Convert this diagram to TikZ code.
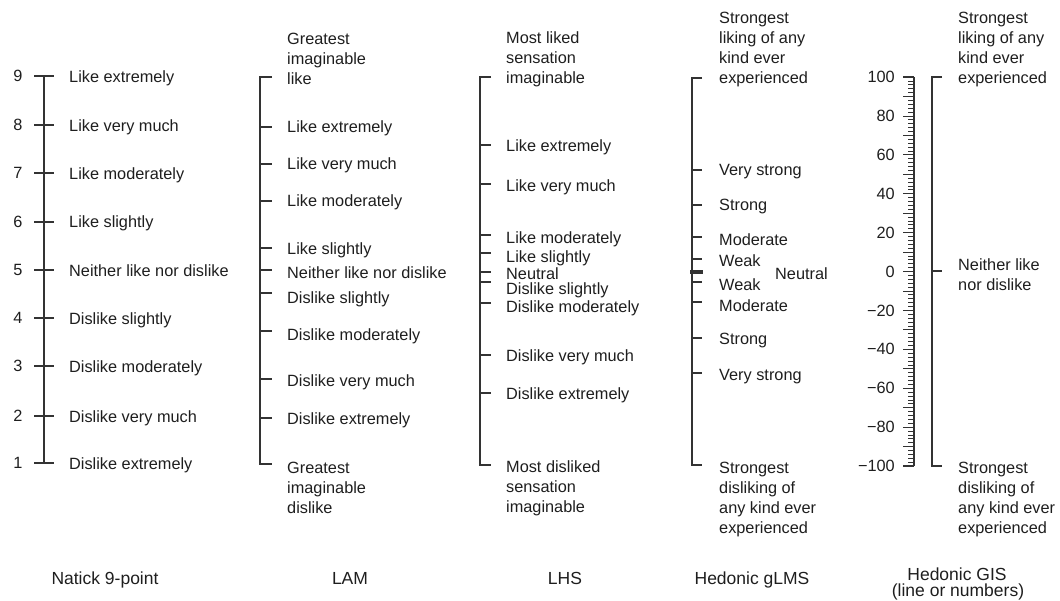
\documentclass[tikz,border=0pt]{standalone}
\usepackage{fontspec}
\setmainfont{Liberation Sans}
\definecolor{ink}{HTML}{1E1E1E}
\definecolor{rulecol}{HTML}{333333}
\begin{document}
\begin{tikzpicture}[x=1pt,y=-1pt,
  lbl/.style={anchor=west,inner sep=0pt,text=ink,font=\fontsize{16.3}{20}\selectfont,align=left},
  num/.style={inner sep=0pt,text=ink,font=\fontsize{16.3}{20}\selectfont},
  ttl/.style={anchor=base,inner sep=0pt,text=ink,font=\fontsize{17.5}{17.5}\selectfont},
  axisline/.style={draw=rulecol,line width=1.3pt},
  tickline/.style={draw=rulecol,line width=1.1pt},
  rulertick/.style={draw=rulecol,line width=0.7pt}]
\useasboundingbox (0,0) rectangle (1060,601);

% ---------------- Natick 9-point ----------------
\draw[axisline] (44,76) -- (44,463);
\foreach \v/\y in {9/76,8/125,7/173,6/222,5/270,4/318,3/366,2/416,1/463}{
  \draw[tickline] (34,\y) -- (54,\y);
  \node[num] (nat\v) at (18,\y) {\v};
}
\node[lbl] (natL9) at (69,78)  {Like extremely};
\node[lbl] (natL8) at (69,127) {Like very much};
\node[lbl] (natL7) at (69,175) {Like moderately};
\node[lbl] (natL6) at (69,223) {Like slightly};
\node[lbl] (natL5) at (69,271) {Neither like nor dislike};
\node[lbl] (natL4) at (69,320) {Dislike slightly};
\node[lbl] (natL3) at (69,368) {Dislike moderately};
\node[lbl] (natL2) at (69,418) {Dislike very much};
\node[lbl] (natL1) at (69,465) {Dislike extremely};

% ---------------- LAM ----------------
\draw[axisline] (272,77) -- (260,77) -- (260,464) -- (272,464);
\foreach \y in {127,164,201,248,270,293,331,379,418}{
  \draw[tickline] (260,\y) -- (272,\y);
}
\node[lbl] (lamTop) at (287,59)  {Greatest\\imaginable\\like};
\node[lbl] (lam1) at (287,128) {Like extremely};
\node[lbl] (lam2) at (287,165) {Like very much};
\node[lbl] (lam3) at (287,202) {Like moderately};
\node[lbl] (lam4) at (287,250) {Like slightly};
\node[lbl] (lam5) at (287,273) {Neither like nor dislike};
\node[lbl] (lam6) at (287,299) {Dislike slightly};
\node[lbl] (lam7) at (287,336) {Dislike moderately};
\node[lbl] (lam8) at (287,382) {Dislike very much};
\node[lbl] (lam9) at (287,420) {Dislike extremely};
\node[lbl] (lamBot) at (287,488) {Greatest\\imaginable\\dislike};

% ---------------- LHS ----------------
\draw[axisline] (491,77) -- (480,77) -- (480,465) -- (491,465);
\foreach \y in {145,184,235,253,272,282,303,355,393}{
  \draw[tickline] (480,\y) -- (491,\y);
}
\node[lbl] (lhsTop) at (506,59) {Most liked\\sensation\\imaginable};
\node[lbl] (lhs1) at (506,147) {Like extremely};
\node[lbl] (lhs2) at (506,187) {Like very much};
\node[lbl] (lhs3) at (506,239) {Like moderately};
\node[lbl] (lhs4) at (506,258) {Like slightly};
\node[lbl] (lhs5) at (506,274) {Neutral};
\node[lbl] (lhs6) at (506,290) {Dislike slightly};
\node[lbl] (lhs7) at (506,308) {Dislike moderately};
\node[lbl] (lhs8) at (506,357) {Dislike very much};
\node[lbl] (lhs9) at (506,395) {Dislike extremely};
\node[lbl] (lhsBot) at (506,488) {Most disliked\\sensation\\imaginable};

% ---------------- Hedonic gLMS ----------------
\draw[axisline] (702,78) -- (692,78) -- (692,465) -- (702,465);
\foreach \y in {170,205,237,259,282,302,338,373}{
  \draw[tickline] (692,\y) -- (702,\y);
}
\draw[draw=rulecol,line width=3.6pt] (690,272) -- (703,272);
\node[lbl] (glmsTop) at (719,50) {Strongest\\liking of any\\kind ever\\experienced};
\node[lbl] (glms1) at (719,172) {Very strong};
\node[lbl] (glms2) at (719,207) {Strong};
\node[lbl] (glms3) at (719,240) {Moderate};
\node[lbl] (glms4) at (719,261) {Weak};
\node[lbl] (glmsN) at (775,274) {Neutral};
\node[lbl] (glms5) at (719,285) {Weak};
\node[lbl] (glms6) at (719,306) {Moderate};
\node[lbl] (glms7) at (719,341) {Strong};
\node[lbl] (glms8) at (719,377) {Very strong};
\node[lbl] (glmsBot) at (719,499) {Strongest\\disliking of\\any kind ever\\experienced};

% ---------------- Hedonic GIS ----------------
% numbered ruler, 100 at the top, -100 at the bottom
\draw[axisline] (914,77) -- (914,466);
\foreach \v in {-100,-98,...,100}{
  \pgfmathsetmacro{\yy}{271.5-1.945*\v}
  \pgfmathtruncatemacro{\m}{mod(abs(\v),10)}
  \ifnum\m=0
    \draw[rulertick] (903,\yy) -- (914,\yy);
  \else
    \draw[rulertick] (908,\yy) -- (914,\yy);
  \fi
}
\draw[tickline] (903,77) -- (914,77);
\draw[tickline] (903,466) -- (914,466);
\foreach \v/\t in {100/100,80/80,60/60,40/40,20/20,0/0,-20/{\char"2212 20},-40/{\char"2212 40},-60/{\char"2212 60},-80/{\char"2212 80},-100/{\char"2212 100}}{
  \pgfmathsetmacro{\yy}{271.5-1.945*\v}
  \node[num,anchor=east] (gisn\v) at (895,\yy) {\t};
}
% plain line version
\draw[axisline] (942,77) -- (932,77) -- (932,466) -- (942,466);
\draw[tickline] (932,271) -- (942,271);
\node[lbl] (gisTop) at (958,50) {Strongest\\liking of any\\kind ever\\experienced};
\node[lbl] (gisMid) at (958,275) {Neither like\\nor dislike};
\node[lbl] (gisBot) at (958,499) {Strongest\\disliking of\\any kind ever\\experienced};

% ---------------- titles, on one baseline ----------------
\node[ttl] (tNatick) at (105,584) {Natick 9-point};
\node[ttl] (tLAM)    at (350,584) {LAM};
\node[ttl] (tLHS)    at (565,584) {LHS};
\node[ttl] (tGLMS)   at (752,584) {Hedonic gLMS};
\node[ttl] (tGIS)    at (957,580) {Hedonic GIS};
\node[ttl] (tGIS2)   at (958,596.5) {(line or numbers)};
\end{tikzpicture}
\end{document}
